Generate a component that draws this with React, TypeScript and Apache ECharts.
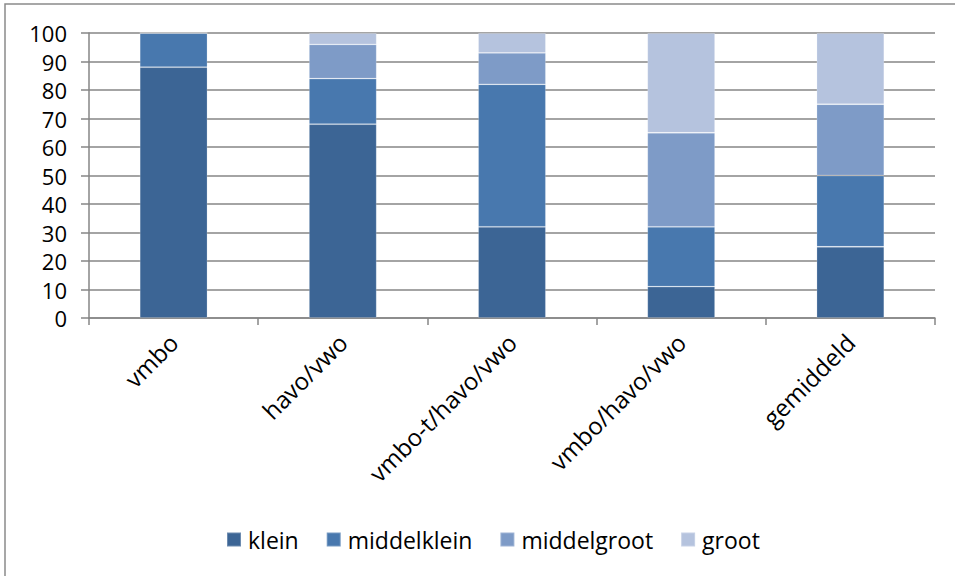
import React, { useEffect, useRef } from "react";
import * as echarts from "echarts";

const categories = ["vmbo", "havo/vwo", "vmbo-t/havo/vwo", "vmbo/havo/vwo", "gemiddeld"];
const klein = [88, 68, 32, 11, 25];
const middelklein = [12, 16, 50, 21, 25];
const middelgroot = [0, 12, 11, 33, 25];
const groot = [0, 4, 7, 35, 25];
const seriesNames = ["klein", "middelklein", "middelgroot", "groot"];
const colors = ["#3c6595", "#4878ae", "#7e9bc7", "#b5c3de"];

export default function App() {
  const ref = useRef<HTMLDivElement>(null);
  useEffect(() => {
    document.body.style.margin = "0";
    const chart = echarts.init(ref.current!, null, { renderer: "svg" });
    const font = "'Open Sans', Lato, sans-serif";
    const data = [klein, middelklein, middelgroot, groot];
    chart.setOption({
      animation: false,
      backgroundColor: "#ffffff",
      textStyle: { fontFamily: font },
      graphic: [
        {
          type: "rect",
          shape: { x: 5, y: 4, width: 1000, height: 620 },
          style: { fill: "none", stroke: "#8a8a8a", lineWidth: 1.5 },
          silent: true,
        },
      ],
      grid: { left: 89, right: 20, top: 33, bottom: 258, containLabel: false },
      legend: {
        bottom: 20,
        left: 221,
        itemWidth: 14,
        itemHeight: 14,
        itemGap: 27,
        icon: "rect",
        textStyle: { fontSize: 23, color: "#000", fontFamily: font, padding: [0, 0, 0, 2] },
        data: seriesNames,
      },
      xAxis: {
        type: "category",
        data: categories,
        axisLine: { lineStyle: { color: "#868686", width: 1.5 } },
        axisTick: { show: true, length: 7, alignWithLabel: false, lineStyle: { color: "#868686", width: 1.5 } },
        axisLabel: {
          rotate: 45,
          fontSize: 24,
          color: "#000",
          margin: 20,
          interval: 0,
          fontFamily: font,
        },
      },
      yAxis: {
        type: "value",
        min: 0,
        max: 100,
        interval: 10,
        axisLine: { show: true, lineStyle: { color: "#868686", width: 1.5 } },
        axisTick: { show: true, length: 8, lineStyle: { color: "#868686", width: 1.5 } },
        splitLine: { lineStyle: { color: "#868686", width: 1.5 } },
        axisLabel: { fontSize: 22, color: "#000", margin: 22, fontFamily: font },
      },
      series: seriesNames.map((name, i) => ({
        name,
        type: "bar",
        stack: "total",
        barWidth: "40%",
        data: data[i],
        itemStyle: {
          color: colors[i],
          borderColor: "rgba(255,255,255,0.25)",
          borderWidth: 0.8,
        },
      })),
    });
    return () => chart.dispose();
  }, []);
  return (
    <div
      ref={ref}
      style={{ position: "absolute", left: 0, top: 0, width: 955, height: 576 }}
    />
  );
}
